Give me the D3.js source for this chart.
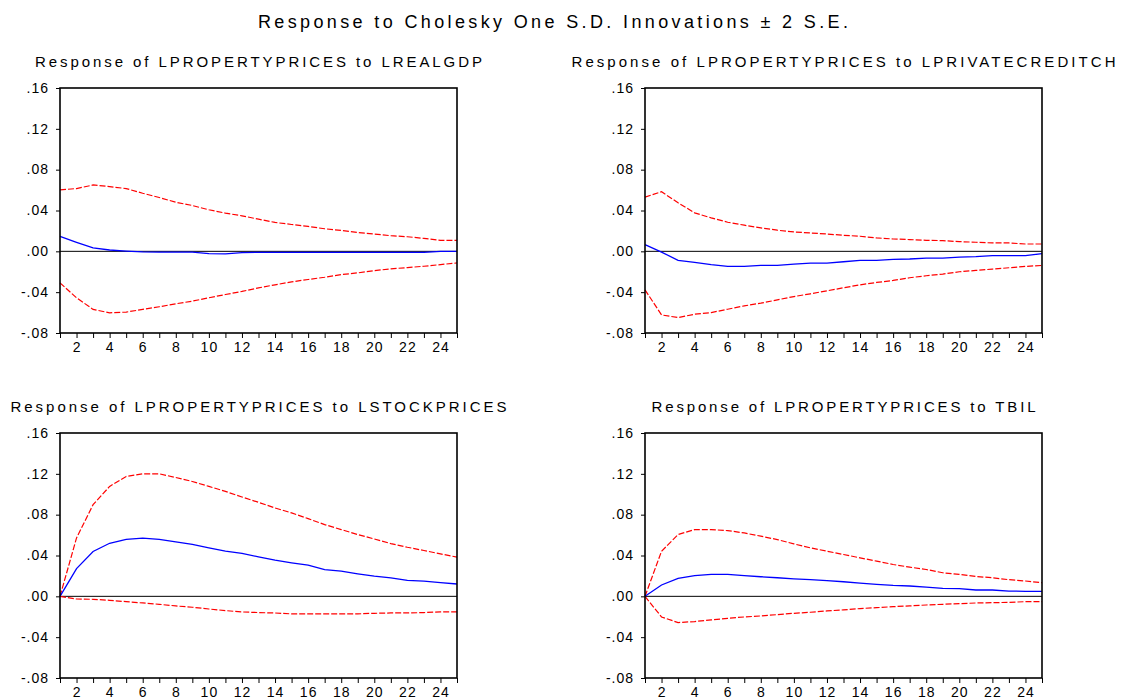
<!DOCTYPE html>
<html><head><meta charset="utf-8">
<script src="https://cdn.jsdelivr.net/npm/d3@7"></script>
<style>body{margin:0;background:#fff}svg{display:block}text{font-family:Arial,"Liberation Sans",sans-serif;fill:#000}</style>
</head><body>
<svg id="c" width="1122" height="700"></svg>
<script>
const periods = d3.range(1, 26);
const yTicks = [-0.08, -0.04, 0.00, 0.04, 0.08, 0.12, 0.16];
const yTickLabels = ["-.08", "-.04", ".00", ".04", ".08", ".12", ".16"];
const xTickLabels = [2,4,6,8,10,12,14,16,18,20,22,24];

const mainTitle = "Response to Cholesky One S.D. Innovations \u00b1 2 S.E.";
const panelTitles = [
  "Response of LPROPERTYPRICES to LREALGDP",
  "Response of LPROPERTYPRICES to LPRIVATECREDITCH",
  "Response of LPROPERTYPRICES to LSTOCKPRICES",
  "Response of LPROPERTYPRICES to TBIL"
];

// Panel 1: LREALGDP
const gdpResp = [0.0146,0.0088,0.0033,0.0013,0.0003,-0.0005,-0.0007,-0.0007,-0.0008,-0.0022,-0.0024,-0.0012,-0.001,-0.001,-0.001,-0.001,-0.001,-0.001,-0.001,-0.001,-0.001,-0.001,-0.001,0.0,0.0];
const gdpUp = [0.0602,0.0615,0.065,0.0634,0.0615,0.0569,0.0527,0.0481,0.0449,0.0407,0.0374,0.0348,0.0315,0.0283,0.0263,0.0244,0.0221,0.0205,0.0185,0.0169,0.0153,0.0143,0.0127,0.0107,0.0107];
const gdpLo = [-0.0309,-0.0455,-0.0569,-0.0602,-0.0595,-0.0569,-0.0543,-0.0514,-0.0488,-0.0455,-0.0423,-0.0393,-0.0358,-0.0328,-0.0299,-0.0276,-0.0254,-0.0228,-0.0211,-0.0189,-0.0172,-0.0159,-0.0146,-0.0130,-0.0114];

// Panel 2: LPRIVATECREDITCH
const credResp = [0.0066,-0.0007,-0.0089,-0.0108,-0.0131,-0.0148,-0.0148,-0.0138,-0.0138,-0.0125,-0.0115,-0.0115,-0.0102,-0.0089,-0.0089,-0.0079,-0.0075,-0.0066,-0.0066,-0.0056,-0.0052,-0.0043,-0.0043,-0.0043,-0.0023];
const credUp = [0.0531,0.0584,0.0475,0.0377,0.0328,0.0285,0.0256,0.023,0.0207,0.019,0.018,0.017,0.0157,0.0148,0.0131,0.0121,0.0115,0.0108,0.0105,0.0095,0.0089,0.0082,0.0082,0.0072,0.0072];
const credLo = [-0.0377,-0.0623,-0.0649,-0.0616,-0.06,-0.0567,-0.0534,-0.0508,-0.0475,-0.0443,-0.0416,-0.0387,-0.0357,-0.0328,-0.0305,-0.0285,-0.0259,-0.0239,-0.0223,-0.02,-0.0187,-0.0174,-0.0161,-0.0148,-0.0138];

// Panel 3: LSTOCKPRICES
const stockResp = [0,0.0272,0.0439,0.052,0.0557,0.057,0.0557,0.0534,0.0508,0.0475,0.0443,0.042,0.0387,0.0354,0.0328,0.0305,0.0262,0.0246,0.022,0.0197,0.018,0.0157,0.0148,0.0134,0.0121];
const stockUp = [0,0.0572,0.0898,0.1077,0.1174,0.12,0.12,0.1164,0.1125,0.1077,0.1028,0.0973,0.0921,0.0866,0.0817,0.0761,0.0703,0.0654,0.0605,0.0562,0.0517,0.0481,0.0449,0.0416,0.0384];
const stockLo = [0,-0.0026,-0.0029,-0.0039,-0.0052,-0.0065,-0.0078,-0.0094,-0.0107,-0.0124,-0.014,-0.0153,-0.0159,-0.0163,-0.0172,-0.0172,-0.0172,-0.0172,-0.0172,-0.0166,-0.0163,-0.0163,-0.0159,-0.0153,-0.0153];

// Panel 4: TBIL
const tbilResp = [0,0.0111,0.0176,0.0202,0.0215,0.0215,0.0202,0.0192,0.0182,0.0172,0.0163,0.0153,0.0143,0.013,0.0117,0.0107,0.0101,0.0091,0.0078,0.0075,0.0062,0.0062,0.0052,0.0049,0.0049];
const tbilUp = [0,0.0442,0.0605,0.0654,0.0654,0.0644,0.0621,0.0589,0.0556,0.0514,0.0475,0.0442,0.041,0.0377,0.0345,0.0312,0.0286,0.0263,0.0231,0.0215,0.0195,0.0182,0.0163,0.015,0.0133];
const tbilLo = [0,-0.0202,-0.0257,-0.0247,-0.0231,-0.0215,-0.0202,-0.0192,-0.0179,-0.0166,-0.0156,-0.0143,-0.0133,-0.012,-0.0111,-0.0101,-0.0094,-0.0085,-0.0078,-0.0072,-0.0065,-0.0062,-0.0059,-0.0052,-0.0052];

const panels = [
  {title: panelTitles[0], resp: gdpResp, up: gdpUp, lo: gdpLo},
  {title: panelTitles[1], resp: credResp, up: credUp, lo: credLo},
  {title: panelTitles[2], resp: stockResp, up: stockUp, lo: stockLo},
  {title: panelTitles[3], resp: tbilResp, up: tbilUp, lo: tbilLo}
];

// layout
const frames = [
  {x0: 60, x1: 457, y0: 88, y1: 333, tl: 447},
  {x0: 645, x1: 1042, y0: 88, y1: 333, tl: 544},
  {x0: 60, x1: 457, y0: 433, y1: 678, tl: 496},
  {x0: 645, x1: 1042, y0: 433, y1: 678, tl: 384}
];

const svg = d3.select("#c");

svg.append("text").attr("x", 553).attr("y", 28).attr("text-anchor", "middle")
  .attr("font-size", 18).attr("textLength", 590).attr("lengthAdjust", "spacing")
  .text(mainTitle);

panels.forEach((p, i) => {
  const f = frames[i];
  const x = d3.scaleLinear().domain([1, 25]).range([f.x0, f.x1]);
  const y = d3.scaleLinear().domain([-0.08, 0.16]).range([f.y1, f.y0]);
  const g = svg.append("g");

  g.append("text").attr("x", (f.x0 + f.x1) / 2).attr("y", f.y0 - 21)
    .attr("text-anchor", "middle").attr("font-size", 15)
    .attr("textLength", f.tl).attr("lengthAdjust", "spacing").text(p.title);

  // y axis ticks and labels
  const ya = d3.axisLeft(y).tickValues(yTicks).tickSize(4).tickPadding(7)
    .tickFormat((d, j) => yTickLabels[j]);
  const yg = g.append("g").attr("transform", `translate(${f.x0},0)`).call(ya);
  yg.select(".domain").remove();
  yg.selectAll("line").attr("stroke", "#000");
  yg.selectAll("text").attr("font-size", 14).attr("letter-spacing", "1px")
    .attr("font-family", "Arial, 'Liberation Sans', sans-serif").attr("dy", "0.3em");

  // x axis ticks and labels
  const xa = d3.axisBottom(x).tickValues(periods).tickSize(5).tickPadding(4)
    .tickFormat(d => xTickLabels.includes(d) ? String(d) : "");
  const xg = g.append("g").attr("transform", `translate(0,${f.y1})`).call(xa);
  xg.select(".domain").remove();
  xg.selectAll("line").attr("stroke", "#000");
  xg.selectAll("text").attr("font-size", 14).attr("letter-spacing", "1px")
    .attr("font-family", "Arial, 'Liberation Sans', sans-serif");

  // zero line
  g.append("line").attr("x1", f.x0).attr("x2", f.x1).attr("y1", y(0)).attr("y2", y(0))
    .attr("stroke", "#000").attr("stroke-width", 1);

  const line = d3.line().x((d, j) => x(periods[j])).y(d => y(d));
  g.append("path").attr("d", line(p.up)).attr("fill", "none")
    .attr("stroke", "#ff0000").attr("stroke-width", 1.2).attr("stroke-dasharray", "6,2");
  g.append("path").attr("d", line(p.lo)).attr("fill", "none")
    .attr("stroke", "#ff0000").attr("stroke-width", 1.2).attr("stroke-dasharray", "6,2");
  g.append("path").attr("d", line(p.resp)).attr("fill", "none")
    .attr("stroke", "#0000ff").attr("stroke-width", 1.3);

  g.append("rect").attr("x", f.x0).attr("y", f.y0).attr("width", f.x1 - f.x0)
    .attr("height", f.y1 - f.y0).attr("fill", "none").attr("stroke", "#000").attr("stroke-width", 1.6);
});
</script>
</body></html>
